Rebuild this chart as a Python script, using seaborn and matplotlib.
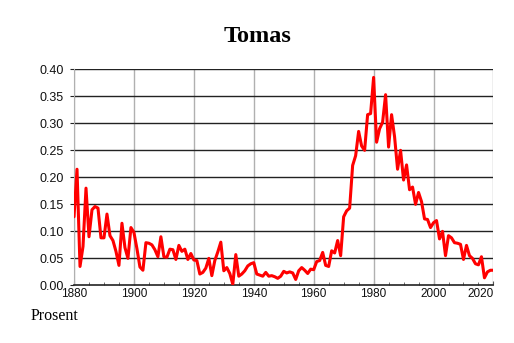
import numpy as np
import pandas as pd
import seaborn as sns
import matplotlib
matplotlib.use('Agg')
import matplotlib.pyplot as plt
from matplotlib.ticker import MultipleLocator, FormatStrFormatter

# share of newborns named Tomas, percent, one value per year 1880-2020
years = list(range(1880, 2021))
prosent = [
    0.127, 0.215, 0.035, 0.072, 0.180, 0.090, 0.140, 0.146, 0.143, 0.088,  # 1880s
    0.088, 0.132, 0.092, 0.083, 0.063, 0.037, 0.115, 0.070, 0.050, 0.107,  # 1890s
    0.098, 0.068, 0.034, 0.028, 0.079, 0.078, 0.075, 0.066, 0.053, 0.090,  # 1900s
    0.053, 0.052, 0.067, 0.066, 0.048, 0.074, 0.063, 0.067, 0.048, 0.059,  # 1910s
    0.047, 0.046, 0.021, 0.024, 0.032, 0.050, 0.018, 0.046, 0.062, 0.080,  # 1920s
    0.027, 0.033, 0.022, 0.002, 0.057, 0.017, 0.021, 0.027, 0.036, 0.040,  # 1930s
    0.042, 0.021, 0.019, 0.017, 0.024, 0.017, 0.018, 0.016, 0.013, 0.017,  # 1940s
    0.026, 0.023, 0.025, 0.023, 0.011, 0.027, 0.033, 0.028, 0.022, 0.030,  # 1950s
    0.029, 0.044, 0.046, 0.061, 0.037, 0.035, 0.064, 0.060, 0.083, 0.055,  # 1960s
    0.127, 0.138, 0.143, 0.222, 0.240, 0.285, 0.258, 0.250, 0.316, 0.318,  # 1970s
    0.385, 0.265, 0.290, 0.302, 0.353, 0.256, 0.316, 0.275, 0.215, 0.250,  # 1980s
    0.195, 0.223, 0.177, 0.182, 0.150, 0.172, 0.155, 0.123, 0.122, 0.107,  # 1990s
    0.116, 0.120, 0.086, 0.100, 0.055, 0.092, 0.088, 0.079, 0.078, 0.076,  # 2000s
    0.048, 0.074, 0.055, 0.050, 0.040, 0.038, 0.053, 0.014, 0.025, 0.028,  # 2010s
    0.028,                                                                  # 2020
]
xticks = [1880, 1900, 1920, 1940, 1960, 1980, 2000, 2020]

df = pd.DataFrame({'year': years, 'prosent': prosent})

sns.set_style('white')
plt.rcParams['font.family'] = ['Liberation Sans', 'DejaVu Sans']

fig = plt.figure(figsize=(5.14, 3.43), dpi=100)
ax = fig.add_axes([0.144, 0.168, 0.816, 0.630])

# grid first so the line sits on top
for x in xticks:
    ax.axvline(x, color='#b0b0b0', linewidth=1, zorder=1)
for y in np.arange(0.05, 0.401, 0.05):
    ax.axhline(y, color='#222222', linewidth=1, zorder=1)

sns.lineplot(data=df, x='year', y='prosent', color='red', linewidth=2.2, ax=ax, zorder=3)

ax.set_xlim(1880, 2020)
ax.set_ylim(0, 0.40)
ax.set_xticks(xticks)
ax.xaxis.set_minor_locator(MultipleLocator(5))
ax.yaxis.set_major_locator(MultipleLocator(0.05))
ax.yaxis.set_major_formatter(FormatStrFormatter('%.2f'))
ax.tick_params(axis='x', which='both', direction='in', length=3, color='#555555',
               labelsize=8.5, pad=2, bottom=True)
ax.tick_params(axis='x', which='minor', length=2)
ax.tick_params(axis='y', direction='out', length=3, color='#222222', labelsize=9,
               pad=4.5, left=True)
for lab in ax.get_xticklabels():
    lab.set_color('#111111')
for lab in ax.get_yticklabels():
    lab.set_color('#111111')
ax.get_xticklabels()[-1].set_horizontalalignment('right')
ax.set_xlabel('')
ax.set_ylabel('')

for side in ['top', 'right']:
    ax.spines[side].set_visible(False)
ax.spines['left'].set_color('#b0b0b0')
ax.spines['bottom'].set_color('#222222')
ax.spines['bottom'].set_linewidth(1.2)

fig.text(0.5, 0.895, 'Tomas', ha='center', va='center', fontsize=17.5, fontweight='bold',
         color='black', family=['Liberation Serif', 'DejaVu Serif'])
fig.text(0.06, 0.08, 'Prosent', ha='left', va='center', fontsize=11.5,
         color='black', family=['Liberation Serif', 'DejaVu Serif'])

fig.savefig('out.png', dpi=100)
